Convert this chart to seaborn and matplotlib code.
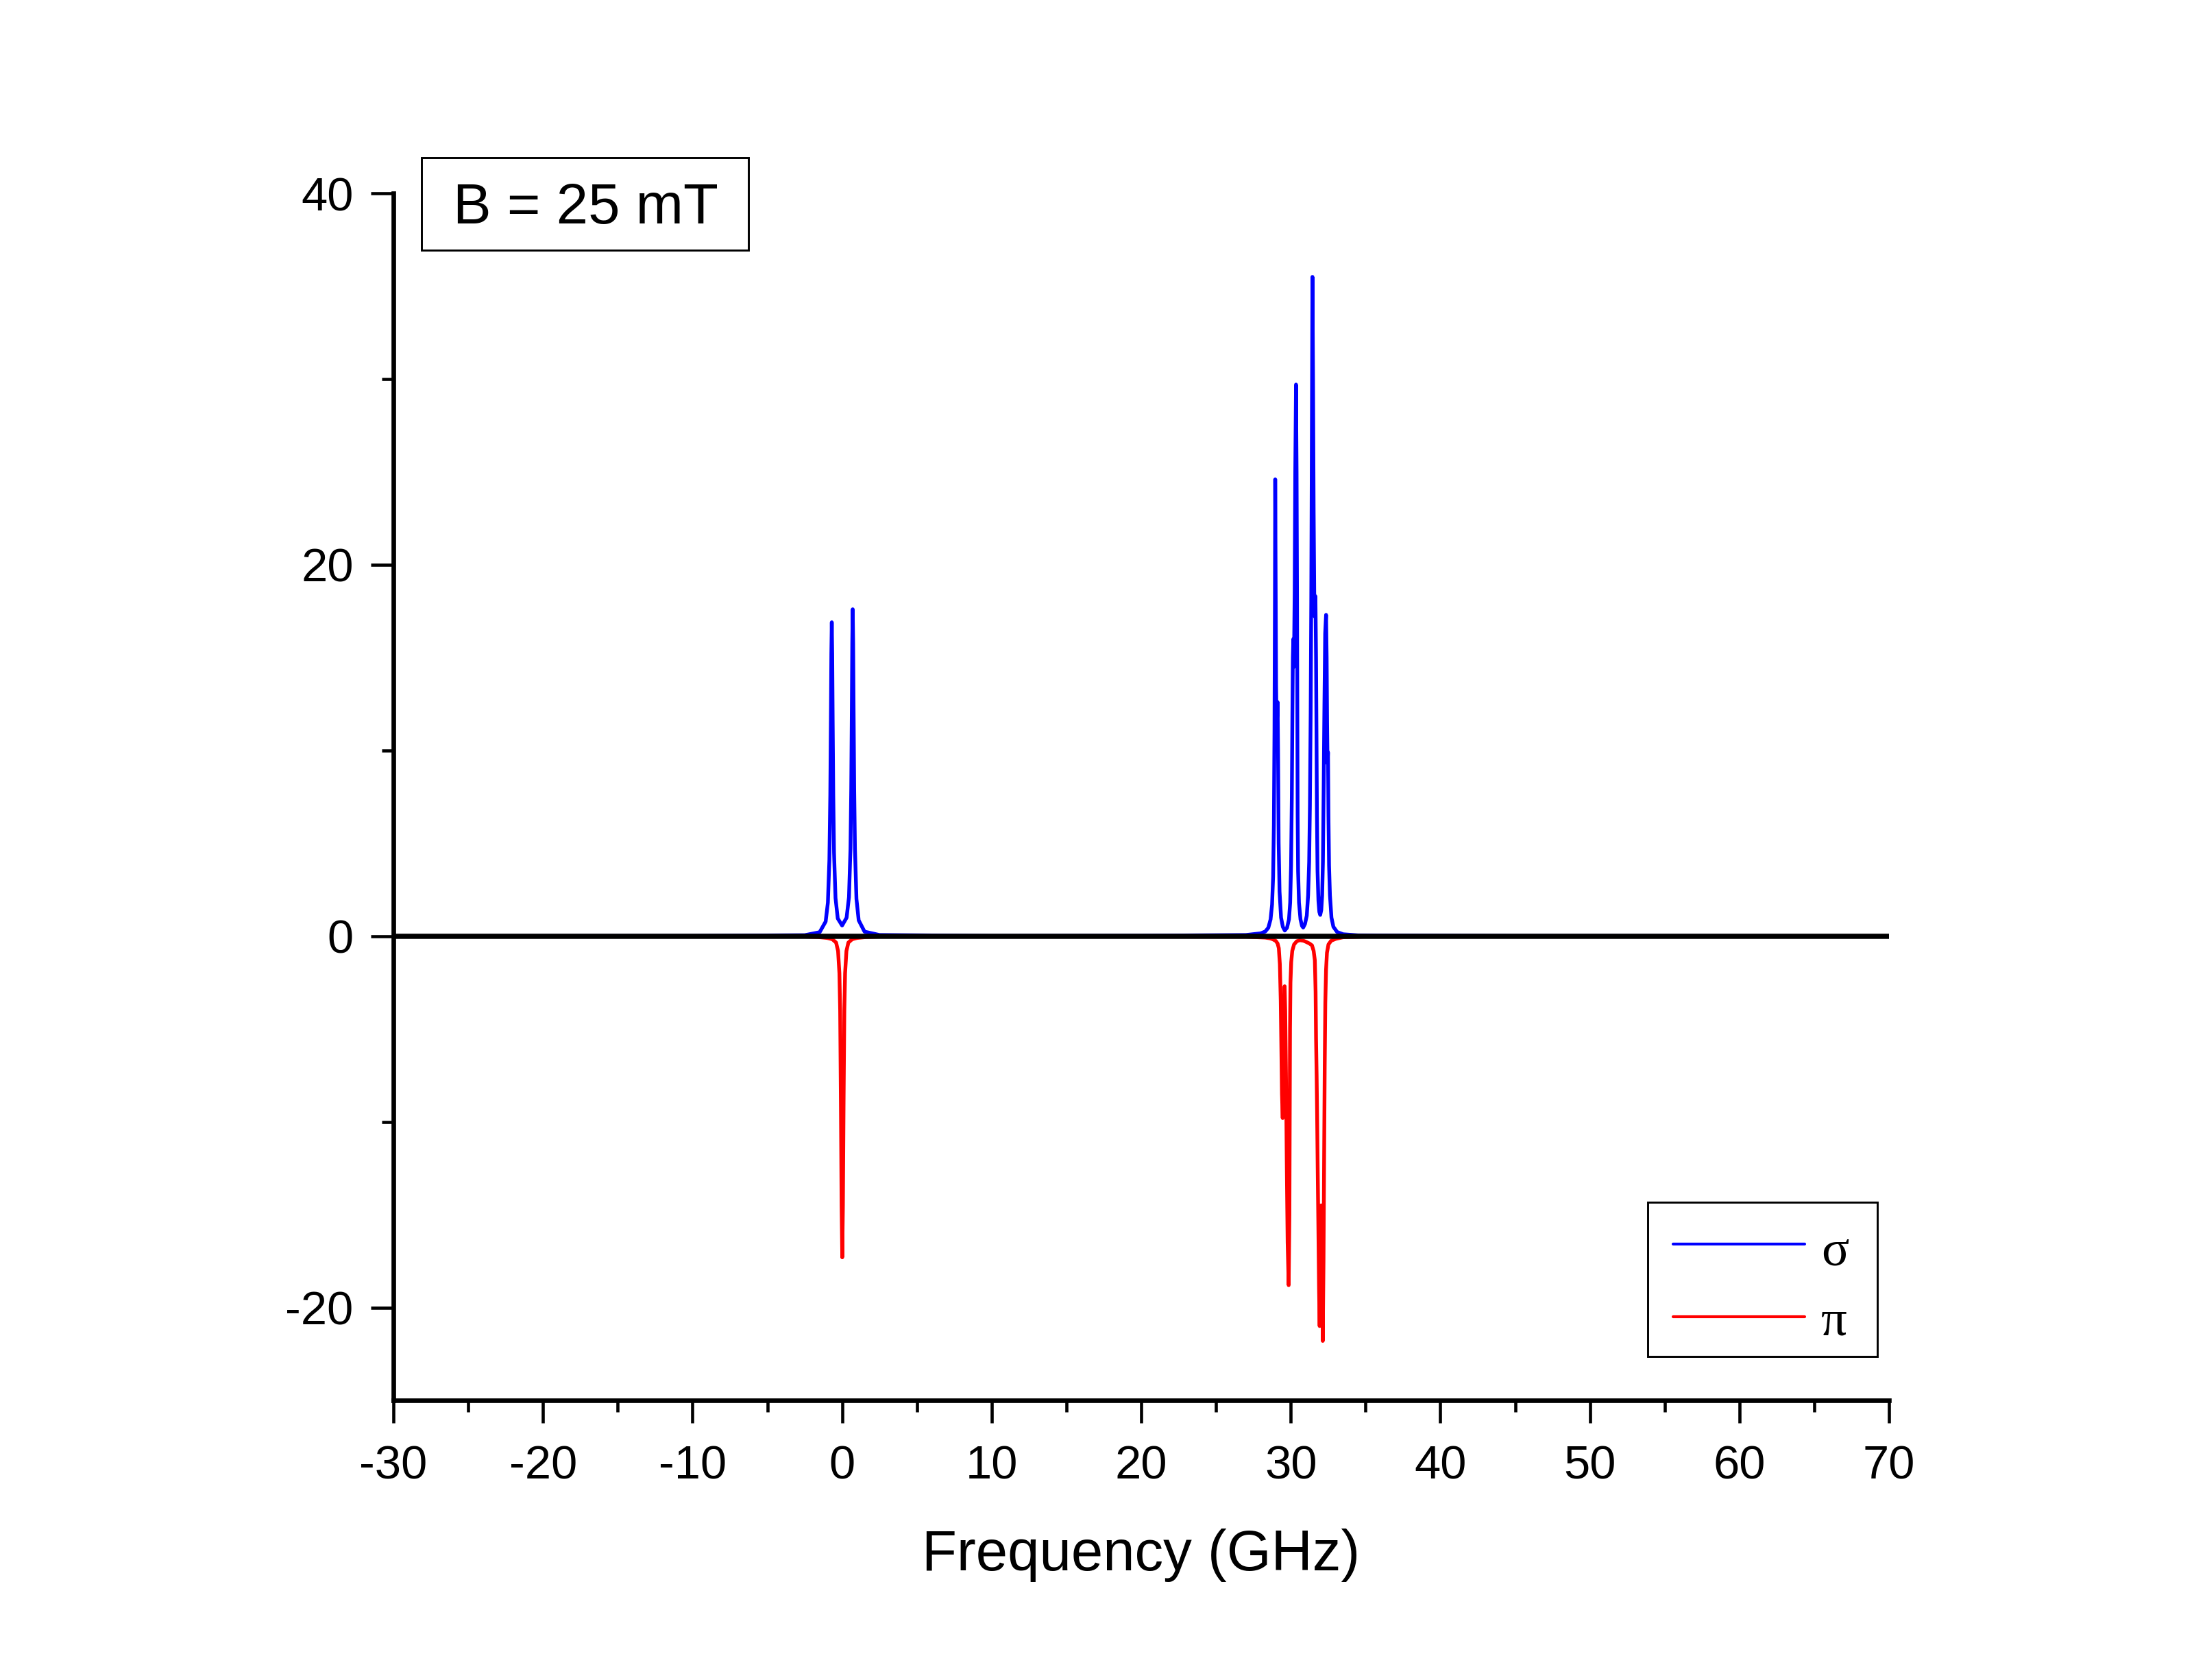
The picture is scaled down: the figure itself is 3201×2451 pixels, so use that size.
import matplotlib
matplotlib.use("Agg")
import matplotlib.pyplot as plt
import matplotlib.patches as mpatches
from matplotlib.lines import Line2D
import seaborn as sns
import pandas as pd

# sigma spectrum (GHz, intensity)
sigma_freq = [-30, -10, -2.5, -1.5, -1.1, -0.95, -0.85, -0.79, -0.75, -0.72, -0.69, -0.66,
              -0.63, -0.59, -0.54, -0.44, -0.29, 0.0, 0.30, 0.46, 0.56, 0.61, 0.65, 0.68,
              0.71, 0.74, 0.77, 0.81, 0.86, 0.96, 1.11, 1.5, 2.5, 10, 20, 27,
              28.0, 28.3, 28.5, 28.65, 28.75, 28.82, 28.87, 28.91, 28.94, 28.96, 28.99,
              29.02, 29.06, 29.09, 29.12, 29.15, 29.19, 29.25, 29.35, 29.47, 29.60,
              29.75, 29.88, 29.96, 30.02, 30.07, 30.11, 30.14, 30.17, 30.21, 30.26,
              30.30, 30.35, 30.39, 30.42, 30.44, 30.46, 30.49, 30.55, 30.65, 30.75, 30.83,
              30.95, 31.07, 31.16, 31.23, 31.28, 31.33, 31.37, 31.41, 31.45, 31.49,
              31.53, 31.57, 31.61, 31.65, 31.69, 31.72, 31.75, 31.79, 31.85, 31.91, 31.97,
              32.04, 32.10, 32.15, 32.20, 32.25, 32.30, 32.36, 32.40, 32.43, 32.46,
              32.49, 32.52, 32.56, 32.62, 32.72, 32.85, 33.1, 33.5, 34.5, 45, 70]
sigma_amp = [0.0, 0.01, 0.05, 0.21, 0.78, 1.8, 4.1, 7.6, 11.7, 15.2, 16.9, 15.2,
             11.7, 7.6, 4.5, 2.05, 0.95, 0.57, 0.99, 2.1, 4.7, 7.9, 12.2, 15.8,
             17.6, 15.8, 12.2, 7.9, 4.7, 2.0, 0.85, 0.24, 0.06, 0.01, 0.02, 0.06,
             0.15, 0.25, 0.45, 0.9, 1.7, 3.2, 6.0, 11.0, 18.0, 24.6, 19.0,
             13.5, 11.0, 11.8, 12.6, 10.0, 5.0, 2.4, 1.0, 0.5, 0.3,
             0.45, 0.9, 1.8, 3.8, 7.5, 12.0, 15.0, 16.0, 14.5, 18.5,
             25.0, 29.7, 25.0, 18.0, 12.0, 6.5, 3.5, 1.8, 0.9, 0.55, 0.46,
             0.65, 1.1, 2.2, 4.0, 7.0, 12.0, 18.0, 27.0, 35.5, 30.0,
             23.0, 18.5, 17.2, 18.3, 15.0, 11.0, 6.5, 3.5, 1.9, 1.3, 1.14,
             1.4, 2.2, 4.0, 8.0, 12.5, 16.3, 17.3, 15.0, 11.5, 9.3,
             9.9, 6.5, 3.8, 2.2, 1.0, 0.5, 0.22, 0.1, 0.04, 0.01, 0.0]

# pi spectrum (drawn negative)
pi_freq = [-30, -10, -2.6, -1.6, -1.0, -0.65, -0.40, -0.27, -0.18, -0.13, -0.08, -0.035,
           0.01, 0.055, 0.10, 0.15, 0.20, 0.29, 0.42, 0.67, 1.0, 1.6, 2.6, 10, 27,
           28.3, 28.6, 28.8, 29.0, 29.12, 29.20, 29.27, 29.33, 29.37, 29.41, 29.46,
           29.51, 29.55, 29.59, 29.63, 29.68, 29.73, 29.79, 29.86, 29.91, 29.93, 29.95,
           29.98, 30.03, 30.10, 30.22, 30.40, 30.60, 30.85, 31.05, 31.25, 31.42, 31.53,
           31.61, 31.66, 31.69, 31.73, 31.76, 31.80, 31.85, 31.89, 31.93, 31.98, 32.04,
           32.09, 32.14, 32.19, 32.23, 32.27, 32.31, 32.36, 32.42, 32.52, 32.70, 33.0,
           33.5, 35, 50, 70]
pi_amp = [0.0, -0.01, -0.02, -0.05, -0.1, -0.17, -0.35, -0.8, -2.0, -4.0, -9.0, -14.5,
          -17.3, -14.5, -9.0, -4.0, -2.0, -0.8, -0.35, -0.17, -0.1, -0.05, -0.02, -0.01, -0.03,
          -0.08, -0.12, -0.17, -0.26, -0.4, -0.65, -1.5, -3.5, -6.0, -8.5, -9.8,
          -7.0, -4.0, -2.7, -4.0, -7.5, -12.0, -16.5, -18.8, -15.0, -10.0, -5.0,
          -2.5, -1.4, -0.8, -0.45, -0.28, -0.22, -0.25, -0.32, -0.4, -0.5, -0.8,
          -1.3, -3.0, -5.5, -7.5, -9.5, -12.5, -16.0, -19.0, -21.0, -17.5, -14.5,
          -18.0, -21.8, -17.5, -12.0, -7.0, -3.6, -1.8, -0.9, -0.45, -0.25, -0.15,
          -0.06, -0.02, -0.01, 0.0]

x_ticks = [-30, -20, -10, 0, 10, 20, 30, 40, 50, 60, 70]
y_ticks = [-20, 0, 20, 40]
series_labels = ["σ", "π"]
series_colors = ["#0000ff", "#ff0000"]
field_label = "B = 25 mT"

sns.set_style("ticks")
plt.rcParams["font.family"] = ["Liberation Sans", "DejaVu Sans"]
plt.rcParams["axes.unicode_minus"] = False
plt.rcParams["text.color"] = "black"
plt.rcParams["axes.labelcolor"] = "black"
plt.rcParams["xtick.color"] = "black"
plt.rcParams["ytick.color"] = "black"

W, H = 3201, 2451
fig = plt.figure(figsize=(W / 300, H / 300), dpi=300)
ax = fig.add_axes([574 / W, 1 - 2043 / H, (2756 - 574) / W, (2043 - 282) / H])

sigma_df = pd.DataFrame({"freq": sigma_freq, "amp": sigma_amp})
pi_df = pd.DataFrame({"freq": pi_freq, "amp": pi_amp})
sns.lineplot(data=sigma_df, x="freq", y="amp", color=series_colors[0], lw=1.3, legend=False, ax=ax)
sns.lineplot(data=pi_df, x="freq", y="amp", color=series_colors[1], lw=1.3, legend=False, ax=ax)
ax.axhline(0, color="black", lw=1.8, zorder=3)

ax.set_xlim(-30, 70)
ax.set_ylim(-25, 40)
ax.set_xticks(x_ticks)
ax.set_yticks(y_ticks)
ax.set_xticks([t + 5 for t in x_ticks[:-1]], minor=True)
ax.set_yticks([-10, 10, 30], minor=True)

for side in ["top", "right"]:
    ax.spines[side].set_visible(False)
for side in ["left", "bottom"]:
    ax.spines[side].set_linewidth(1.6)
    ax.spines[side].set_color("black")

ax.tick_params(which="major", direction="out", length=8, width=1.1, labelsize=16.5)
ax.tick_params(which="minor", direction="out", length=4, width=1.1)
ax.tick_params(axis="x", which="major", pad=7.5)
ax.tick_params(axis="y", which="major", pad=6)
ax.set_xlabel("Frequency (GHz)", fontsize=20, labelpad=14)
ax.set_ylabel("")

# legend box, drawn by hand to sit where the original one is
fig.add_artist(mpatches.Rectangle((2404 / W, 1 - 1979 / H), 335 / W, 225 / H,
                                  transform=fig.transFigure, fill=False,
                                  edgecolor="black", lw=0.7))
for lab, col, ly, ty in zip(series_labels, series_colors, [1815, 1921], [1845, 1948]):
    fig.add_artist(Line2D([2441 / W, 2633 / W], [1 - ly / H, 1 - ly / H],
                          transform=fig.transFigure, color=col, lw=1.0))
    fig.text(2657 / W, 1 - ty / H, lab, ha="left", va="baseline", fontsize=18,
             family=["Liberation Serif", "DejaVu Serif"])

# field annotation box
fig.add_artist(mpatches.Rectangle((615 / W, 1 - 365 / H), 477 / W, 135 / H,
                                  transform=fig.transFigure, fill=False,
                                  edgecolor="black", lw=0.7))
fig.text(854 / W, 1 - 326 / H, field_label, ha="center", va="baseline", fontsize=20)

fig.savefig("out.png", dpi=300, facecolor="white")
